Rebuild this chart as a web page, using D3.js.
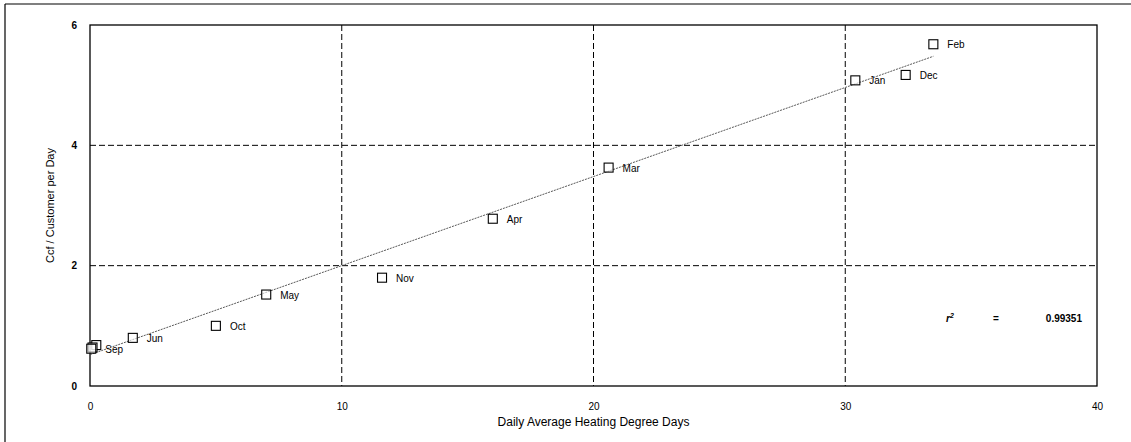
<!DOCTYPE html>
<html lang="en">
  <head>
    <meta charset="UTF-8" />
    <title>Ccf per Customer vs Heating Degree Days</title>
    <script src="https://d3js.org/d3.v7.min.js"></script>
    <style>
      body {
        margin: 0;
        background: #fff;
        font-family: "Liberation Sans", Arial, sans-serif;
      }
      svg text {
        fill: #000;
      }
      .tick-label {
        font-size: 10px;
        font-weight: bold;
      }
      .pt-label {
        font-size: 10px;
      }
    </style>
  </head>
  <body>
    <svg width="1131" height="442"></svg>

    <script>
      // Monthly data: daily average HDD vs Ccf / customer per day
      const months = ["Jul", "Aug", "Sep", "Jun", "Oct", "May", "Nov", "Apr", "Mar", "Jan", "Dec", "Feb"];
      const hdd = [0.25, 0.1, 0.05, 1.7, 5.0, 7.0, 11.6, 16.0, 20.6, 30.4, 32.4, 33.5];
      const ccf = [0.68, 0.64, 0.62, 0.8, 1.0, 1.52, 1.8, 2.78, 3.63, 5.08, 5.17, 5.68];
      const showLabel = [false, false, true, true, true, true, true, true, true, true, true, true];

      // Regression line end points
      const fitX = [0, 33.5];
      const fitY = [0.52, 5.48];

      const xTicks = [0, 10, 20, 30, 40];
      const yTicks = [0, 2, 4, 6];
      const rSquared = "0.99351";

      const svg = d3.select("svg");
      const margin = { left: 90, right: 34, top: 25, bottom: 56 };
      const width = 1131, height = 442;

      const x = d3.scaleLinear().domain([0, 40]).range([margin.left, width - margin.right]);
      const y = d3.scaleLinear().domain([0, 6]).range([height - margin.bottom, margin.top]);

      // Outer frame (top and left edges visible)
      svg.append("line").attr("x1", 5).attr("x2", width).attr("y1", 4).attr("y2", 4)
        .attr("stroke", "#000").attr("stroke-width", 1.2);
      svg.append("line").attr("x1", 5).attr("x2", 5).attr("y1", 4).attr("y2", height)
        .attr("stroke", "#000").attr("stroke-width", 1.2);

      // Dashed grid
      const grid = svg.append("g");
      grid.selectAll("line.vx")
        .data(xTicks.filter(d => d > 0 && d < 40))
        .join("line")
        .attr("x1", d => x(d)).attr("x2", d => x(d))
        .attr("y1", y(6)).attr("y2", y(0))
        .attr("stroke", "#000").attr("stroke-width", 1)
        .attr("stroke-dasharray", "6,3");
      grid.selectAll("line.hy")
        .data(yTicks.filter(d => d > 0 && d < 6))
        .join("line")
        .attr("x1", x(0)).attr("x2", x(40))
        .attr("y1", d => y(d)).attr("y2", d => y(d))
        .attr("stroke", "#000").attr("stroke-width", 1)
        .attr("stroke-dasharray", "6,3");

      // Plot border
      svg.append("rect")
        .attr("x", x(0)).attr("y", y(6))
        .attr("width", x(40) - x(0)).attr("height", y(0) - y(6))
        .attr("fill", "none").attr("stroke", "#000").attr("stroke-width", 1.3);

      // Axes (labels only, custom styling)
      const xAxis = svg.append("g")
        .attr("transform", `translate(0,${y(0) + 14})`)
        .call(d3.axisBottom(x).tickValues(xTicks).tickSize(0).tickFormat(d3.format("d")));
      xAxis.select(".domain").remove();
      xAxis.selectAll("text").attr("class", "tick-label").style("font-weight", "normal");

      const yAxis = svg.append("g")
        .attr("transform", `translate(${x(0) - 10},0)`)
        .call(d3.axisLeft(y).tickValues(yTicks).tickSize(0).tickFormat(d3.format("d")));
      yAxis.select(".domain").remove();
      yAxis.selectAll("text").attr("class", "tick-label");

      // Axis titles
      svg.append("text")
        .attr("x", x(20)).attr("y", 426)
        .attr("text-anchor", "middle")
        .style("font-size", "12px")
        .text("Daily Average Heating Degree Days");
      svg.append("text")
        .attr("transform", `translate(54,${(y(0) + y(6)) / 2}) rotate(-90)`)
        .attr("text-anchor", "middle")
        .style("font-size", "11px")
        .text("Ccf / Customer per Day");

      // Regression line
      svg.append("line")
        .attr("x1", x(fitX[0])).attr("y1", y(fitY[0]))
        .attr("x2", x(fitX[1])).attr("y2", y(fitY[1]))
        .attr("stroke", "#444").attr("stroke-width", 0.9)
        .attr("stroke-dasharray", "2,1");

      // Points
      const pts = months.map((m, i) => ({ m, hx: hdd[i], cy: ccf[i], lab: showLabel[i] }));
      const s = 9;
      svg.append("g").selectAll("rect")
        .data(pts)
        .join("rect")
        .attr("x", d => x(d.hx) - s / 2)
        .attr("y", d => y(d.cy) - s / 2)
        .attr("width", s).attr("height", s)
        .attr("fill", "#fff").attr("fill-opacity", 0.6)
        .attr("stroke", "#000").attr("stroke-width", 1.1);

      svg.append("g").selectAll("text")
        .data(pts.filter(d => d.lab))
        .join("text")
        .attr("class", "pt-label")
        .attr("x", d => x(d.hx) + 14)
        .attr("y", d => y(d.cy) + 4)
        .text(d => d.m);

      // r-squared annotation
      const rg = svg.append("g").style("font-size", "10px").style("font-weight", "bold");
      rg.append("text").attr("x", 946).attr("y", 322)
        .style("font-style", "italic").text("r").append("tspan")
        .attr("dy", -4).style("font-size", "7px").text("2");
      rg.append("text").attr("x", 993).attr("y", 322).text("=");
      rg.append("text").attr("x", 1082).attr("y", 322).attr("text-anchor", "end").text(rSquared);
    </script>
  </body>
</html>
